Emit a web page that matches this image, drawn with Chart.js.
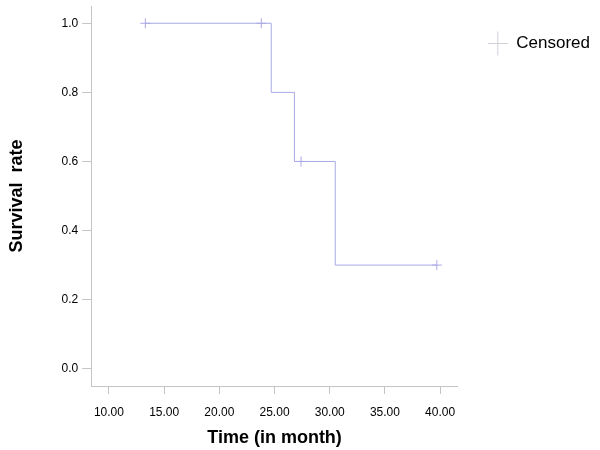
<!DOCTYPE html>
<html>
<head>
<meta charset="utf-8">
<script src="https://cdn.jsdelivr.net/npm/chart.js@4/dist/chart.umd.min.js"></script>
<style>
  body { margin: 0; background: #fff; }
  #wrap { width: 600px; height: 450px; }
</style>
</head>
<body>
<div id="wrap"><canvas id="myChart" width="600" height="450"></canvas></div>
<script>
// survival curve (step points, time in month)
var stepTimes = [13.3, 24.7, 26.8, 30.5, 39.7];
var stepSurvival = [1.0, 0.8, 0.6, 0.3, 0.3];
// censored cases
var censorTimes = [13.3, 23.8, 27.4, 39.7];
var censorSurvival = [1.0, 1.0, 0.6, 0.3];
// axis ticks
var xTicks = [10, 15, 20, 25, 30, 35, 40];
var yTicks = [0.0, 0.2, 0.4, 0.6, 0.8, 1.0];

var lineColor = '#a9a9e6';
var axisColor = '#c4c4c4';

var survData = [];
for (var i = 0; i < stepTimes.length; i++) {
  survData.push({ x: stepTimes[i], y: stepSurvival[i] });
}
var censData = [];
for (var j = 0; j < censorTimes.length; j++) {
  censData.push({ x: censorTimes[j], y: censorSurvival[j] });
}

var ctx = document.getElementById('myChart').getContext('2d');
var chart = new Chart(ctx, {
  type: 'scatter',
  data: {
    datasets: [{
      label: 'Survival',
      data: survData,
      showLine: true,
      stepped: 'before',
      borderColor: lineColor,
      borderWidth: 1,
      pointRadius: 0,
      fill: false
    }, {
      label: 'Censored',
      data: censData,
      pointStyle: 'cross',
      pointRadius: 5,
      borderColor: lineColor,
      borderWidth: 1,
      backgroundColor: lineColor
    }]
  },
  options: {
    responsive: false,
    animation: false,
    layout: { padding: { top: 5, left: 6, right: 0, bottom: 1 } },
    plugins: {
      tooltip: { enabled: false },
      legend: {
        position: 'right',
        align: 'start',
        labels: {
          usePointStyle: true,
          pointStyleWidth: 20,
          color: '#000',
          padding: 30,
          font: { family: 'Liberation Sans, Arial', size: 17 },
          generateLabels: function(c) {
            return [{
              text: 'Censored',
              pointStyle: 'cross',
              strokeStyle: '#d0d0d8',
              fillStyle: '#d0d0d8',
              lineWidth: 1,
              fontColor: '#000',
              datasetIndex: 1
            }];
          }
        }
      }
    },
    scales: {
      x: {
        type: 'linear',
        min: 8.4,
        max: 41.6,
        afterBuildTicks: function(axis) {
          axis.ticks = xTicks.map(function(v) { return { value: v }; });
        },
        afterFit: function(axis) {
          axis.height = axis.height - 3;
        },
        ticks: {
          color: '#000',
          padding: 11,
          font: { family: 'Liberation Sans, Arial', size: 12 },
          callback: function(v) { return v.toFixed(2); },
          maxRotation: 0
        },
        grid: { drawOnChartArea: false, color: axisColor, tickLength: 8 },
        border: { color: axisColor },
        title: {
          display: true,
          text: 'Time (in month)',
          color: '#000',
          font: { family: 'Liberation Sans, Arial', size: 18, weight: 'bold' },
          padding: { top: 0, bottom: 0 }
        }
      },
      y: {
        type: 'linear',
        min: -0.05,
        max: 1.05,
        afterBuildTicks: function(axis) {
          axis.ticks = yTicks.map(function(v) { return { value: v }; });
        },
        afterFit: function(axis) {
          axis.paddingTop = 0;
          axis.paddingBottom = 0;
        },
        ticks: {
          color: '#000',
          padding: 4,
          font: { family: 'Liberation Sans, Arial', size: 12 },
          callback: function(v) { return v.toFixed(1); }
        },
        grid: { drawOnChartArea: false, color: axisColor, tickLength: 9 },
        border: { color: axisColor },
        title: {
          display: true,
          text: 'Survival  rate',
          color: '#000',
          font: { family: 'Liberation Sans, Arial', size: 18, weight: 'bold' },
          padding: { top: 0, bottom: 30 }
        }
      }
    }
  }
});
</script>
</body>
</html>
